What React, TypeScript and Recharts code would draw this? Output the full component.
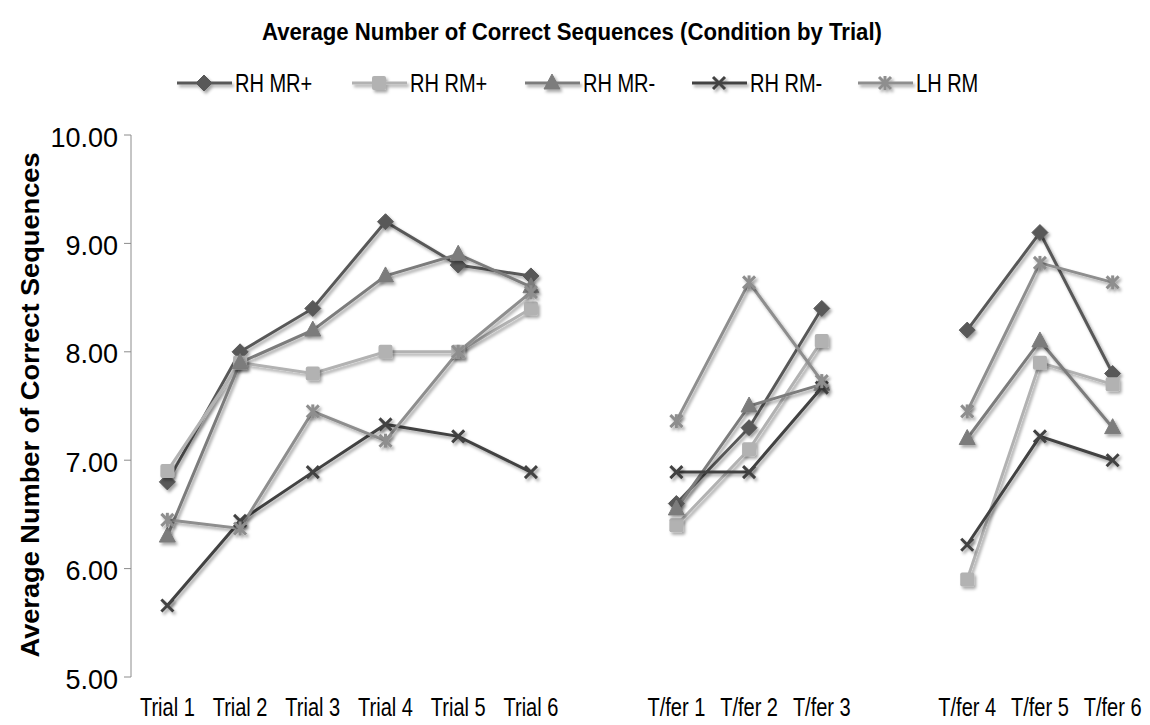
import React from 'react';
import { LineChart, Line, XAxis, YAxis, Legend } from 'recharts';

const categories = [
  'Trial 1', 'Trial 2', 'Trial 3', 'Trial 4', 'Trial 5', 'Trial 6', '',
  'T/fer 1', 'T/fer 2', 'T/fer 3', '',
  'T/fer 4', 'T/fer 5', 'T/fer 6',
];

// null entries are the blank columns that split the three blocks
const rhMRPlus = [6.8, 8.0, 8.4, 9.2, 8.8, 8.7, null, 6.6, 7.3, 8.4, null, 8.2, 9.1, 7.8];
const rhRMPlus = [6.9, 7.9, 7.8, 8.0, 8.0, 8.4, null, 6.4, 7.1, 8.1, null, 5.9, 7.9, 7.7];
const rhMRMinus = [6.3, 7.9, 8.2, 8.7, 8.9, 8.6, null, 6.55, 7.5, 7.7, null, 7.2, 8.1, 7.3];
const rhRMMinus = [5.66, 6.44, 6.89, 7.33, 7.22, 6.89, null, 6.89, 6.89, 7.67, null, 6.22, 7.22, 7.0];
const lhRM = [6.45, 6.37, 7.45, 7.18, 8.0, 8.55, null, 7.36, 8.64, 7.73, null, 7.45, 8.82, 8.64];

const yTicks = [5, 6, 7, 8, 9, 10];

type Shape = 'diamond' | 'square' | 'triangle' | 'cross' | 'star';

const series: { key: string; name: string; color: string; shape: Shape; values: (number | null)[] }[] = [
  { key: 'rhMRPlus', name: 'RH MR+', color: '#595959', shape: 'diamond', values: rhMRPlus },
  { key: 'rhRMPlus', name: 'RH RM+', color: '#b2b2b2', shape: 'square', values: rhRMPlus },
  { key: 'rhMRMinus', name: 'RH MR-', color: '#7c7c7c', shape: 'triangle', values: rhMRMinus },
  { key: 'rhRMMinus', name: 'RH RM-', color: '#424242', shape: 'cross', values: rhRMMinus },
  { key: 'lhRM', name: 'LH RM', color: '#8e8e8e', shape: 'star', values: lhRM },
];

const data = categories.map((name, i) => {
  const row: Record<string, number | string | null> = { x: i + 0.5, name };
  series.forEach((s) => {
    row[s.key] = s.values[i];
  });
  return row;
});

const boundaryTicks = categories.map((_, i) => i).concat(categories.length);
const centerTicks = categories.map((_, i) => i + 0.5);

const FONT = '"Liberation Sans", Arial, sans-serif';
// Liberation Sans squeezed horizontally stands in for a narrow face
const SQUEEZE = 0.77;
const legendX = [177, 352, 525, 692, 858];

const Marker = ({ shape, color, cx, cy }: { shape: Shape; color: string; cx: number; cy: number }) => {
  switch (shape) {
    case 'diamond':
      return <path d={`M${cx},${cy - 8} L${cx + 8},${cy} L${cx},${cy + 8} L${cx - 8},${cy} Z`} fill={color} stroke={color} strokeLinejoin="round" strokeWidth={1} />;
    case 'square':
      return <rect x={cx - 7} y={cy - 7} width={14} height={14} rx={2} fill={color} />;
    case 'triangle':
      return <path d={`M${cx},${cy - 9} L${cx + 8},${cy + 6} L${cx - 8},${cy + 6} Z`} fill={color} stroke={color} strokeLinejoin="round" strokeWidth={1} />;
    case 'cross':
      return (
        <g stroke={color} strokeWidth={3}>
          <line x1={cx - 6} y1={cy - 6} x2={cx + 6} y2={cy + 6} />
          <line x1={cx - 6} y1={cy + 6} x2={cx + 6} y2={cy - 6} />
        </g>
      );
    case 'star':
      return (
        <g stroke={color} strokeWidth={3}>
          <line x1={cx - 6} y1={cy - 6} x2={cx + 6} y2={cy + 6} />
          <line x1={cx - 6} y1={cy + 6} x2={cx + 6} y2={cy - 6} />
          <line x1={cx} y1={cy - 7} x2={cx} y2={cy + 7} />
        </g>
      );
  }
};

const makeDot = (shape: Shape, color: string) => (props: any) => {
  const { cx, cy, index, value } = props;
  if (value == null || cy == null) return <g key={`${shape}-${index}`} />;
  return (
    <g key={`${shape}-${index}`} filter="url(#shade)">
      <Marker shape={shape} color={color} cx={cx} cy={cy} />
    </g>
  );
};

const CategoryTick = (props: any) => {
  const { x, y, payload } = props;
  const label = categories[Math.floor(payload.value)];
  return (
    <text
      transform={`translate(${x},${y}) scale(${SQUEEZE},1)`}
      textAnchor="middle"
      dy="0.71em"
      fontFamily={FONT}
      fontSize={26}
      fill="#000"
    >
      {label}
    </text>
  );
};

const LegendRow = () => (
  <svg width={1150} height={30} style={{ overflow: 'visible', display: 'block' }}>
    {series.map((s, i) => {
      const x = legendX[i];
      return (
        <g key={s.key}>
          <g filter="url(#shade)">
            <line x1={x} y1={15} x2={x + 55} y2={15} stroke={s.color} strokeWidth={3} />
            <Marker shape={s.shape} color={s.color} cx={x + 27} cy={15} />
          </g>
          <text
            transform={`translate(${x + 58},24) scale(${SQUEEZE},1)`}
            fontFamily={FONT}
            fontSize={26}
            fill="#000"
          >
            {s.name}
          </text>
        </g>
      );
    })}
  </svg>
);

export default function App() {
  return (
    <div style={{ position: 'absolute', left: 0, top: 0, width: 1150, height: 725, background: '#fff' }}>
      <LineChart
        width={1150}
        height={725}
        data={data}
        margin={{ top: 135, right: 1, bottom: 0, left: 51 }}
      >
        <defs>
          <filter id="shade" x="-50%" y="-50%" width="200%" height="200%">
            <feDropShadow dx={2} dy={2.5} stdDeviation={1.6} floodColor="#000" floodOpacity={0.35} />
          </filter>
        </defs>
        <text
          x={572}
          y={40}
          textAnchor="middle"
          fontFamily={FONT}
          fontWeight="bold"
          fontSize={24}
          textLength={620}
          lengthAdjust="spacingAndGlyphs"
          fill="#000"
        >
          Average Number of Correct Sequences (Condition by Trial)
        </text>
        <text
          x={0}
          y={0}
          transform="translate(39,405) rotate(-90)"
          textAnchor="middle"
          fontFamily={FONT}
          fontWeight="bold"
          fontSize={25}
          textLength={505}
          lengthAdjust="spacingAndGlyphs"
          fill="#000"
        >
          Average Number of Correct Sequences
        </text>
        <XAxis
          xAxisId={0}
          dataKey="x"
          type="number"
          domain={[0, categories.length]}
          ticks={boundaryTicks}
          tickFormatter={() => ''}
          stroke="#8c8c8c"
          tickSize={7}
          height={0}
        />
        <XAxis
          xAxisId="labels"
          dataKey="x"
          type="number"
          domain={[0, categories.length]}
          ticks={centerTicks}
          axisLine={false}
          tickLine={false}
          tickSize={0}
          tickMargin={21}
          height={48}
          interval={0}
          tick={<CategoryTick />}
        />
        <YAxis
          type="number"
          domain={[5, 10]}
          ticks={yTicks}
          tickFormatter={(v: number) => v.toFixed(2)}
          stroke="#8c8c8c"
          tickSize={7}
          tickMargin={6}
          width={80}
          tick={{ fontFamily: FONT, fontSize: 27, fill: '#000', dy: 2 }}
        />
        <Legend
          layout="horizontal"
          verticalAlign="middle"
          align="center"
          content={<LegendRow />}
          wrapperStyle={{ top: 68, left: 0, width: 1150 }}
        />
        {series.map((s) => (
          <Line
            key={s.key}
            xAxisId={0}
            type="linear"
            dataKey={s.key}
            name={s.name}
            stroke={s.color}
            strokeWidth={3}
            filter="url(#shade)"
            dot={makeDot(s.shape, s.color)}
            activeDot={false}
            isAnimationActive={false}
            connectNulls={false}
          />
        ))}
      </LineChart>
    </div>
  );
}
